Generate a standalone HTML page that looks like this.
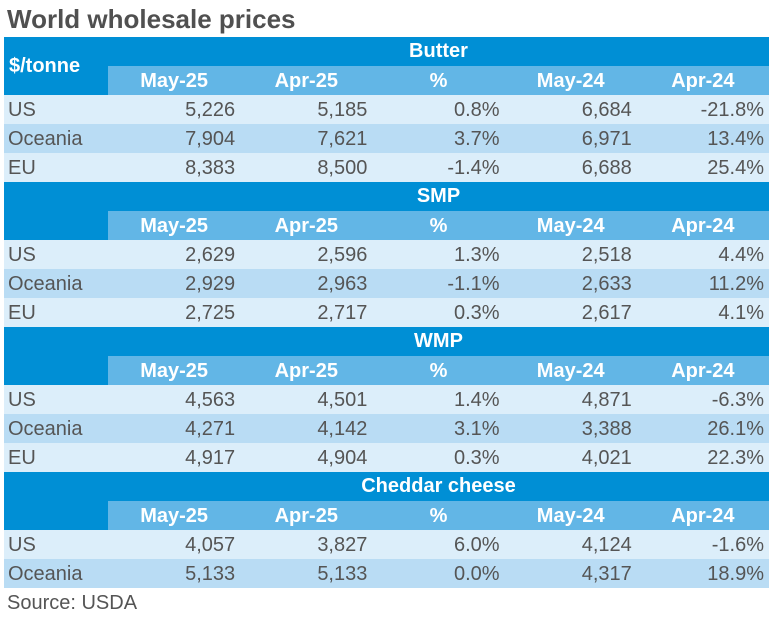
<!DOCTYPE html>
<html><head><meta charset="utf-8"><style>
body{margin:0;width:775px;height:617px;background:#fff;position:relative;overflow:hidden;font-family:"Liberation Sans",Arial,sans-serif;}
.a{position:absolute;box-sizing:border-box;}
.t{position:absolute;white-space:nowrap;line-height:29px;font-size:20px;}
</style></head><body>
<div class="t" style="left:7px;top:2px;line-height:34px;font-size:26px;font-weight:bold;color:#505050">World wholesale prices</div>
<div id="tbl"></div>
<div class="t" style="left:7px;top:589px;color:#555">Source: USDA</div>
<script>
const products=["Butter","SMP","WMP","Cheddar cheese"];
const columns=["May-25","Apr-25","%","May-24","Apr-24"];
const regions=[["US","Oceania","EU"],["US","Oceania","EU"],["US","Oceania","EU"],["US","Oceania"]];
const values=[
[["5,226","5,185","0.8%","6,684","-21.8%"],["7,904","7,621","3.7%","6,971","13.4%"],["8,383","8,500","-1.4%","6,688","25.4%"]],
[["2,629","2,596","1.3%","2,518","4.4%"],["2,929","2,963","-1.1%","2,633","11.2%"],["2,725","2,717","0.3%","2,617","4.1%"]],
[["4,563","4,501","1.4%","4,871","-6.3%"],["4,271","4,142","3.1%","3,388","26.1%"],["4,917","4,904","0.3%","4,021","22.3%"]],
[["4,057","3,827","6.0%","4,124","-1.6%"],["5,133","5,133","0.0%","4,317","18.9%"]]];
const tbl=document.getElementById('tbl');
const L=4,R=769,C0=108,CW=132.2,RH=29;
function box(x,y,w,h,bg){const d=document.createElement('div');d.className='a';d.style.cssText=`left:${x}px;top:${y}px;width:${w}px;height:${h}px;background:${bg}`;tbl.appendChild(d);return d;}
function txt(s,x,y,align,w,style){const d=document.createElement('div');d.className='t';d.textContent=s;d.style.cssText=`top:${y}px;left:${x}px;width:${w}px;text-align:${align};${style}`;tbl.appendChild(d);return d;}
let y=37;
products.forEach((p,i)=>{
 const hb=box(L,y,R-L,RH*2,'#008fd5');
 
 
 const sb=box(C0,y+RH,R-C0,RH,'#62b6e6');
 
 
 const pt=txt(p,C0,y,'center',R-C0,'color:#fff;font-weight:bold');
 
 
 if(i===0){const u=txt('$/tonne',L+5,y+15,'left',100,'color:#fff;font-weight:bold');
 
 }
 columns.forEach((c,j)=>{const h=txt(c,C0+j*CW,y+RH+1,'center',CW,'color:#fff;font-weight:bold');
 
 });
 y+=RH*2;
 regions[i].forEach((r,k)=>{
  const rb=box(L,y,R-L,RH,k%2?'#b9dcf4':'#dceefa');
  
  
  const rl=txt(r,L+4,y+1,'left',100,'color:#555');
  
  
  values[i][k].forEach((v,j)=>{const c=txt(v,C0+j*CW,y+1,'right',CW-5,'color:#555');
  
  });
  y+=RH;
 });
});
</script>
</body></html>
